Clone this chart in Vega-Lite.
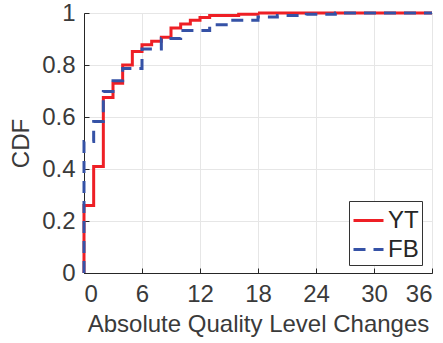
{
  "$schema": "https://vega.github.io/schema/vega-lite/v6.json",
  "width": 348,
  "height": 260,
  "autosize": {"type": "none"},
  "padding": {"left": 84, "top": 13, "right": 11, "bottom": 70},
  "background": "white",
  "config": {
    "font": "Liberation Sans",
    "view": {"stroke": "#262626", "strokeWidth": 1},
    "axis": {
      "labelFont": "Liberation Sans",
      "labelFontSize": 24,
      "labelColor": "#3a3a3a",
      "titleFont": "Liberation Sans",
      "titleFontSize": 24,
      "titleColor": "#3a3a3a",
      "titleFontWeight": "normal",
      "gridColor": "#e6e6e6",
      "gridWidth": 1,
      "domainColor": "#262626",
      "tickColor": "#262626",
      "tickSize": -5
    },
    "legend": {
      "labelFont": "Liberation Sans",
      "labelFontSize": 24,
      "labelColor": "#262626"
    }
  },
  "data": {
    "values": [
      {"series": "YT", "i": 0, "x": 0, "cdf": 0},
      {"series": "YT", "i": 1, "x": 0, "cdf": 0.26},
      {"series": "YT", "i": 2, "x": 1, "cdf": 0.41},
      {"series": "YT", "i": 3, "x": 2, "cdf": 0.675},
      {"series": "YT", "i": 4, "x": 3, "cdf": 0.73},
      {"series": "YT", "i": 5, "x": 4, "cdf": 0.8},
      {"series": "YT", "i": 6, "x": 5, "cdf": 0.852},
      {"series": "YT", "i": 7, "x": 6, "cdf": 0.878},
      {"series": "YT", "i": 8, "x": 7, "cdf": 0.891},
      {"series": "YT", "i": 9, "x": 8, "cdf": 0.907},
      {"series": "YT", "i": 10, "x": 9, "cdf": 0.942},
      {"series": "YT", "i": 11, "x": 10, "cdf": 0.958},
      {"series": "YT", "i": 12, "x": 11, "cdf": 0.972},
      {"series": "YT", "i": 13, "x": 12, "cdf": 0.983},
      {"series": "YT", "i": 14, "x": 13, "cdf": 0.99},
      {"series": "YT", "i": 15, "x": 16, "cdf": 0.995},
      {"series": "YT", "i": 16, "x": 18, "cdf": 1.0},
      {"series": "YT", "i": 17, "x": 36, "cdf": 1.0},
      {"series": "FB", "i": 0, "x": 0, "cdf": 0},
      {"series": "FB", "i": 1, "x": 0, "cdf": 0.506},
      {"series": "FB", "i": 2, "x": 1, "cdf": 0.583},
      {"series": "FB", "i": 3, "x": 2, "cdf": 0.698},
      {"series": "FB", "i": 4, "x": 3, "cdf": 0.739},
      {"series": "FB", "i": 5, "x": 4, "cdf": 0.787},
      {"series": "FB", "i": 6, "x": 6, "cdf": 0.862},
      {"series": "FB", "i": 7, "x": 8, "cdf": 0.902},
      {"series": "FB", "i": 8, "x": 10, "cdf": 0.933},
      {"series": "FB", "i": 9, "x": 13, "cdf": 0.955},
      {"series": "FB", "i": 10, "x": 15, "cdf": 0.972},
      {"series": "FB", "i": 11, "x": 18, "cdf": 0.985},
      {"series": "FB", "i": 12, "x": 20, "cdf": 0.99},
      {"series": "FB", "i": 13, "x": 23, "cdf": 0.995},
      {"series": "FB", "i": 14, "x": 26, "cdf": 1.0},
      {"series": "FB", "i": 15, "x": 36, "cdf": 1.0}
    ]
  },
  "mark": {"type": "line", "interpolate": "step-after", "strokeWidth": 3},
  "encoding": {
    "x": {
      "field": "x",
      "type": "quantitative",
      "scale": {"domain": [0, 36], "nice": false},
      "axis": {
        "values": [0, 6, 12, 18, 24, 30, 36],
        "title": "Absolute Quality Level Changes",
        "labelPadding": 14,
        "titlePadding": 6
      }
    },
    "y": {
      "field": "cdf",
      "type": "quantitative",
      "scale": {"domain": [0, 1], "nice": false},
      "axis": {
        "values": [0, 0.2, 0.4, 0.6, 0.8, 1],
        "format": "~g",
        "title": "CDF",
        "labelPadding": 14,
        "titlePadding": 8
      }
    },
    "order": {"field": "i", "type": "quantitative"},
    "color": {
      "field": "series",
      "type": "nominal",
      "scale": {"domain": ["YT", "FB"], "range": ["#ee1f25", "#3552a6"]},
      "legend": {
        "title": null,
        "orient": "none",
        "legendX": 265,
        "legendY": 188,
        "symbolType": "stroke",
        "symbolSize": 900,
        "symbolStrokeWidth": 3,
        "strokeColor": "#333333",
        "fillColor": "white",
        "padding": 3,
        "rowPadding": -3,
        "labelOffset": 3
      }
    },
    "strokeDash": {
      "field": "series",
      "type": "nominal",
      "scale": {"domain": ["YT", "FB"], "range": [[1, 0], [12, 8]]},
      "legend": {
        "title": null,
        "orient": "none",
        "legendX": 265,
        "legendY": 188,
        "symbolType": "stroke",
        "symbolSize": 900,
        "symbolStrokeWidth": 3,
        "strokeColor": "#333333",
        "fillColor": "white",
        "padding": 3,
        "rowPadding": -3,
        "labelOffset": 3
      }
    }
  }
}
